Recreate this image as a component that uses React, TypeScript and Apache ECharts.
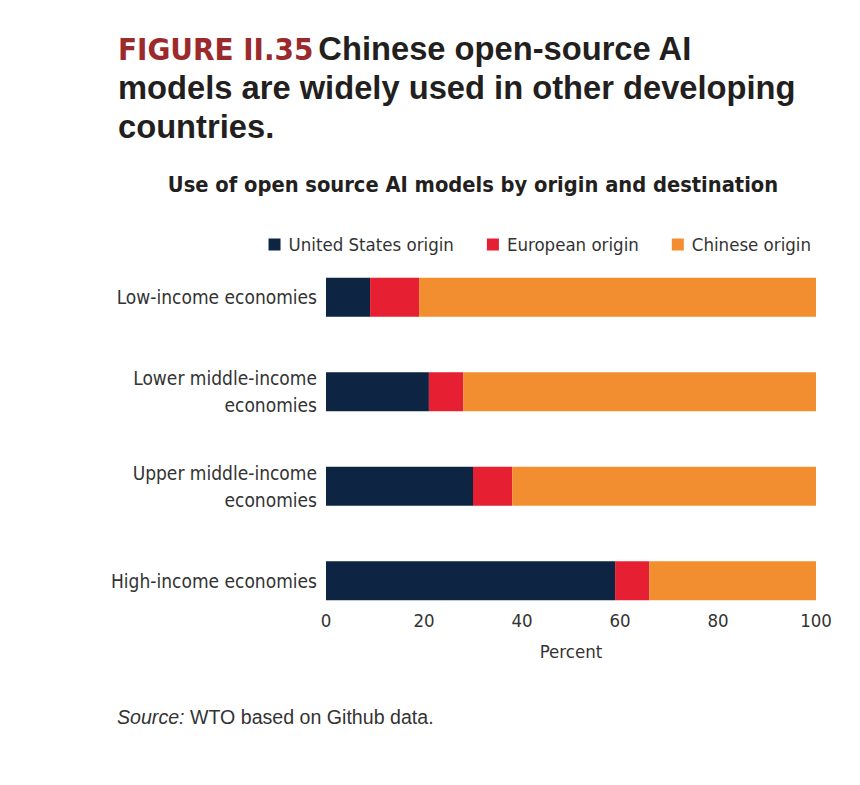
import * as echarts from 'echarts';
import { useEffect, useRef } from 'react';

const categories = [
  'Low-income economies',
  'Lower middle-income\neconomies',
  'Upper middle-income\neconomies',
  'High-income economies',
];
const usOrigin = [9, 21, 30, 59];
const europeanOrigin = [10, 7, 8, 7];
const chineseOrigin = [81, 72, 62, 34];
const xTicks = [0, 20, 40, 60, 80, 100];

const NARROW = "'DejaVu Sans Condensed', 'Liberation Sans Narrow', sans-serif";
const SANS = "'Liberation Sans', Arial, sans-serif";

export default function App() {
  const ref = useRef<HTMLDivElement | null>(null);

  useEffect(() => {
    if (!ref.current) return undefined;
    const chart = echarts.init(ref.current, undefined, { renderer: 'svg' });

    const bar = (name: string, data: number[], color: string) => ({
      type: 'bar' as const,
      name,
      stack: 'total',
      data,
      barWidth: 39,
      itemStyle: { color },
      emphasis: { disabled: true },
    });

    chart.setOption({
      animation: false,
      title: [
        {
          text:
            '{red|FIGURE II.35} {b|Chinese open-source AI}\n{b|models are widely used in other developing}\n{b|countries.}',
          left: 110,
          top: 21,
          padding: 0,
          textStyle: {
            rich: {
              red: { fontFamily: NARROW, fontWeight: 'bold', fontSize: 31, color: '#9b2a2c', lineHeight: 39 },
              b: { fontFamily: SANS, fontWeight: 'bold', fontSize: 32.7, color: '#231f20', lineHeight: 39 },
            },
          },
        },
        {
          text: 'Use of open source AI models by origin and destination',
          left: 465,
          top: 165,
          padding: 0,
          textAlign: 'center',
          textStyle: { fontFamily: NARROW, fontWeight: 'bold', fontSize: 21.7, color: '#231f20' },
        },
      ],
      legend: {
        right: 36,
        top: 222,
        icon: 'rect',
        itemWidth: 12,
        itemHeight: 12,
        itemGap: 33,
        textStyle: { fontFamily: NARROW, fontSize: 18.5, color: '#333', padding: [0, 0, 0, 3] },
        data: ['United States origin', 'European origin', 'Chinese origin'],
      },
      grid: { left: 318, top: 242, width: 490, height: 378 },
      xAxis: {
        type: 'value',
        min: 0,
        max: 100,
        interval: 20,
        offset: -24,
        name: 'Percent',
        nameLocation: 'middle',
        nameGap: 38,
        nameTextStyle: { fontFamily: NARROW, fontSize: 18.5, color: '#333' },
        axisLine: { show: false },
        axisTick: { show: false },
        splitLine: { show: false },
        axisLabel: {
          fontFamily: NARROW,
          fontSize: 18.5,
          color: '#333',
          margin: 7,
          customValues: xTicks,
          formatter: (v: number) => String(v),
        },
      },
      yAxis: {
        type: 'category',
        inverse: true,
        data: categories,
        axisLine: { show: false },
        axisTick: { show: false },
        axisLabel: {
          fontFamily: NARROW,
          fontSize: 19,
          color: '#333',
          lineHeight: 27,
          margin: 9,
          align: 'right',
        },
      },
      series: [
        bar('United States origin', usOrigin, '#0d2442'),
        bar('European origin', europeanOrigin, '#e61f33'),
        bar('Chinese origin', chineseOrigin, '#f28e2f'),
      ],
      graphic: [
        {
          type: 'text',
          left: 109,
          top: 699,
          style: {
            text: '{i|Source:} WTO based on Github data.',
            font: `19.6px ${SANS}`,
            fill: '#333',
            rich: {
              i: { fontStyle: 'italic', fontFamily: SANS, fontSize: 19.6, fill: '#333' },
            },
          },
        },
      ],
    });

    return () => chart.dispose();
  }, []);

  return <div ref={ref} style={{ width: 844, height: 769 }} />;
}
